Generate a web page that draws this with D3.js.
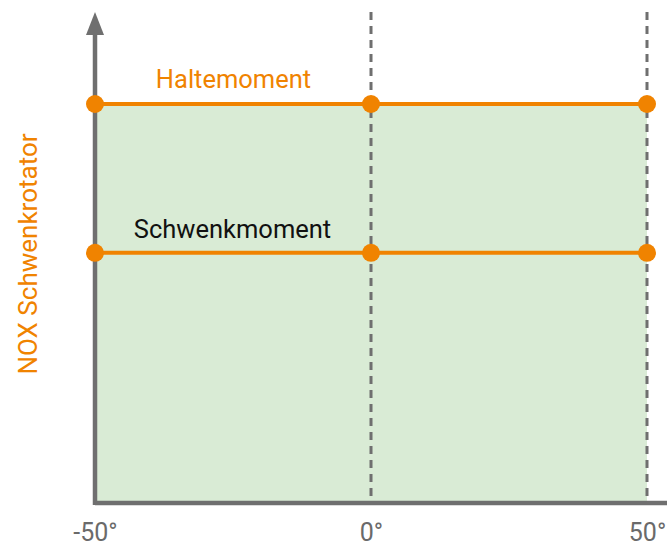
<!DOCTYPE html>
<html>
<head>
<meta charset="utf-8">
<script src="https://cdn.jsdelivr.net/npm/d3@7"></script>
<style>
  body { margin: 0; background: #fff; }
  text { font-family: Roboto, "Noto Sans", sans-serif; }
</style>
</head>
<body>
<svg id="chart" width="667" height="547"></svg>
<script>
// winkel in grad
let angles = [-50, 0, 50];
let tickLabels = ['-50°', '0°', '50°'];
// momente (relativ)
let seriesNames = ['Haltemoment', 'Schwenkmoment'];
let seriesValues = [100, 62.7];
let seriesColors = ['#f08300', '#111111'];

let orange = '#f08300';
let grey = '#6f6f6f';

let svg = d3.select('#chart');

let x = d3.scaleLinear().domain([-50, 50]).range([95, 647]);
let y = d3.scaleLinear().domain([0, 100]).range([503, 104]);
let yTop = 12;

// gruene flaeche
svg.append('rect')
    .attr('x', x(-50))
    .attr('y', y(100))
    .attr('width', x(50) - x(-50))
    .attr('height', y(0) - y(100))
    .attr('fill', '#d9ebd5');

// gestrichelte linien
svg.append('g')
    .selectAll('line')
    .data(angles.slice(1))
    .join('line')
    .attr('x1', d => x(d))
    .attr('x2', d => x(d))
    .attr('y1', yTop)
    .attr('y2', y(0))
    .attr('stroke', grey)
    .attr('stroke-width', 3)
    .attr('stroke-dasharray', '8,6');

// achsen
svg.append('line')
    .attr('x1', x(-50)).attr('x2', 667)
    .attr('y1', y(0)).attr('y2', y(0))
    .attr('stroke', grey).attr('stroke-width', 4.5);
svg.append('line')
    .attr('x1', x(-50)).attr('x2', x(-50))
    .attr('y1', y(0) + 2).attr('y2', yTop + 20)
    .attr('stroke', grey).attr('stroke-width', 4.5);
svg.append('path')
    .attr('d', `M${x(-50)},${yTop} L${x(-50) + 9},${yTop + 23} L${x(-50) - 9},${yTop + 23} Z`)
    .attr('fill', grey);

// tick beschriftung
let xAxis = d3.axisBottom(x).tickValues(angles).tickFormat((d, i) => tickLabels[i]).tickSize(0).tickPadding(0);
let gx = svg.append('g').attr('transform', `translate(0,541)`).call(xAxis);
gx.select('.domain').remove();
gx.selectAll('text')
    .attr('font-size', 25)
    .attr('fill', '#6a6a6a')
    .attr('y', 0)
    .attr('dy', 0)
    .style('font-family', 'Roboto, sans-serif');

// orange linien + punkte
seriesValues.forEach(function(v, i) {
    svg.append('line')
        .attr('x1', x(-50)).attr('x2', x(50))
        .attr('y1', y(v)).attr('y2', y(v))
        .attr('stroke', orange).attr('stroke-width', 4);
    svg.append('g')
        .selectAll('circle')
        .data(angles)
        .join('circle')
        .attr('cx', d => x(d))
        .attr('cy', y(v))
        .attr('r', 9)
        .attr('fill', orange);
});

// beschriftungen
svg.append('text')
    .attr('x', 233.5).attr('y', y(seriesValues[0]) - 16)
    .attr('text-anchor', 'middle')
    .attr('font-size', 25.5)
    .attr('fill', seriesColors[0])
    .text(seriesNames[0]);
svg.append('text')
    .attr('x', 232.5).attr('y', y(seriesValues[1]) - 15)
    .attr('text-anchor', 'middle')
    .attr('font-size', 25.5)
    .attr('fill', seriesColors[1])
    .text(seriesNames[1]);

svg.append('text')
    .attr('transform', 'translate(37,254) rotate(-90)')
    .attr('text-anchor', 'middle')
    .attr('font-size', 26)
    .attr('fill', orange)
    .text('NOX Schwenkrotator');
</script>
</body>
</html>
